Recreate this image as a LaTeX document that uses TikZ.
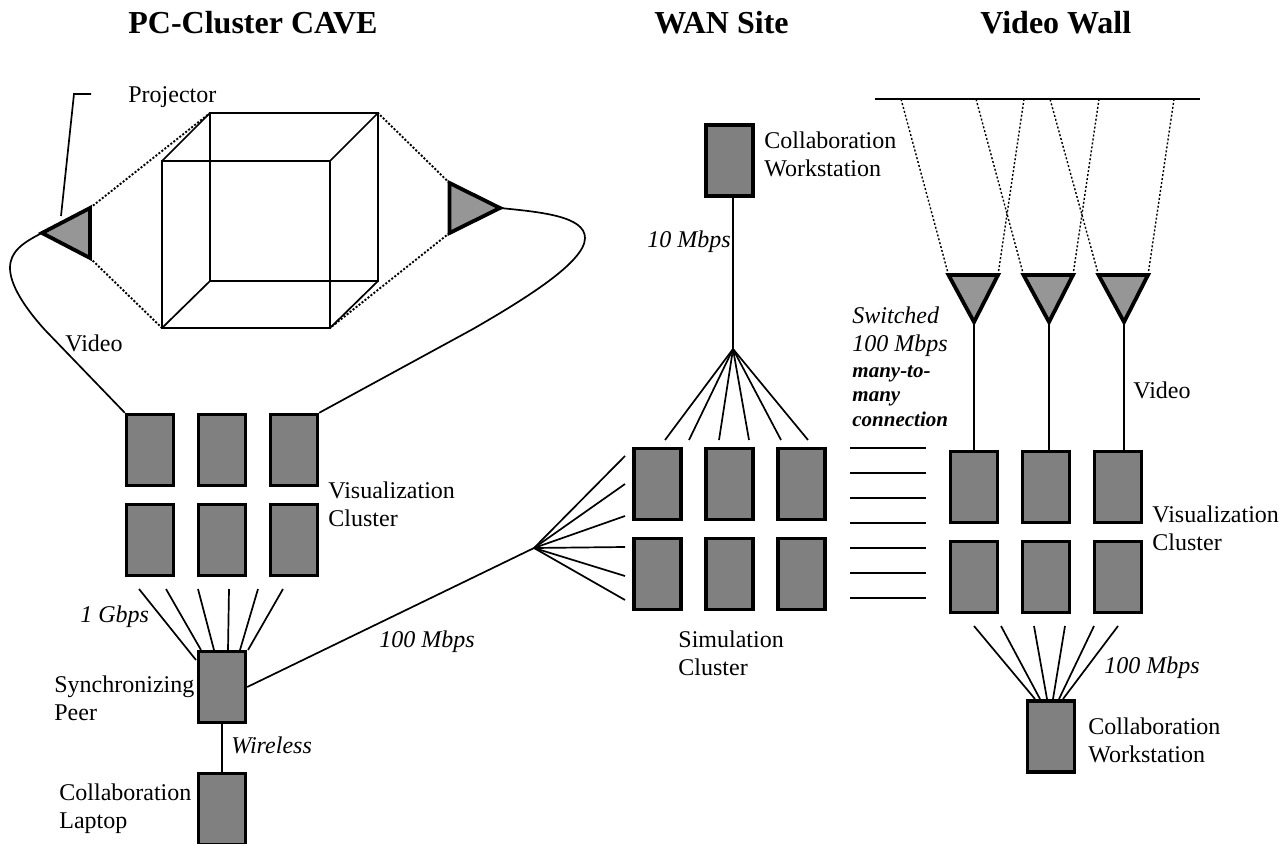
\documentclass[tikz,border=0pt]{standalone}
\usepackage{fontspec}
\setmainfont{Liberation Serif}
\usepackage{xcolor}
\definecolor{hostgray}{HTML}{808080}
\definecolor{lampgray}{HTML}{969696}
\tikzset{
  hostbox/.style={draw=black,fill=hostgray,line width=1.7pt,minimum width=23.5pt,minimum height=35.5pt,inner sep=0pt},
  projector/.style={draw=black,fill=lampgray,line width=1.9pt,line join=miter},
  wire/.style={line width=0.85pt},
  beam/.style={line width=0.95pt,dash pattern=on 1pt off 0.9pt},
  wallbeam/.style={line width=0.7pt,dash pattern=on 1pt off 1pt},
  title/.style={font=\fontsize{16}{18}\selectfont\bfseries,anchor=base west,inner sep=0pt},
  lbl/.style={font=\fontsize{12}{14}\selectfont,align=left,anchor=base west,inner sep=0pt},
  rate/.style={lbl,font=\fontsize{12}{14}\selectfont\itshape},
}
\begin{document}
\begin{tikzpicture}[x=0.5pt,y=-0.5pt]
  \useasboundingbox (0,0) rectangle (1288,844);
  % Column titles.
  \node[title] (titlecave) at (128,34) {PC-Cluster CAVE};
  \node[title] (titlewan)  at (654,34) {WAN Site};
  \node[title] (titlewall) at (980,34) {Video Wall};
  % Host boxes, one loop per cluster.
  \foreach \n/\x/\y in {va/150/450,vb/222/450,vc/294/450,vd/150/540,ve/222/540,vf/294/540}
    \node[hostbox] (\n) at (\x,\y) {};
  \foreach \n/\x/\y in {sa/657.5/484,sb/729.5/484,sc/801.5/484,sd/657.5/574,se/729.5/574,sf/801.5/574}
    \node[hostbox] (\n) at (\x,\y) {};
  \foreach \n/\x/\y in {wa/974/487,wb/1046/487,wc/1118/487,wd/974/577,we/1046/577,wf/1118/577}
    \node[hostbox] (\n) at (\x,\y) {};
  \node[hostbox] (syncpeer) at (222,687) {};
  \node[hostbox] (laptop)   at (222,809) {};
  \node[hostbox] (wanstat)  at (729.5,160.5) {};
  \node[hostbox] (wallstat) at (1051,736.5) {};
  % CAVE cube.
  \coordinate (bnw) at (210,113);
  \coordinate (bne) at (378,113);
  \coordinate (bse) at (378,281);
  \coordinate (bsw) at (210,281);
  \coordinate (fnw) at (162,161);
  \coordinate (fne) at (330,161);
  \coordinate (fse) at (330,328);
  \coordinate (fsw) at (162,328);
  \draw[wire] (bnw) -- (bne) -- (bse) -- (bsw) -- cycle;
  \draw[wire] (fnw) -- (fne) -- (fse) -- (fsw) -- cycle;
  \draw[wire] (bnw) -- (fnw) (bne) -- (fne) (bse) -- (fse) (bsw) -- (fsw);
  % CAVE projectors with their beams and video cables.
  \coordinate (pla) at (42,233);
  \coordinate (plb) at (90,208);
  \coordinate (plc) at (90,258);
  \coordinate (pra) at (500,208);
  \coordinate (prb) at (449.5,183);
  \coordinate (prc) at (449.5,233);
  \draw[beam] (plb) -- (bnw) (plc) -- (fsw) (prb) -- (bne) (prc) -- (fse);
  \draw[projector] (pla) -- (plb) -- (plc) -- cycle;
  \draw[projector] (pra) -- (prb) -- (prc) -- cycle;
  \draw[wire] (pla) .. controls (22,243) and (10,252) .. (10,268)
    .. controls (10,285) and (25,308) .. (45,330) -- (va.north west);
  \draw[wire] (pra) .. controls (540,212) and (585,216) .. (585,238)
    .. controls (585,262) and (525,299) .. (473,329) -- (vc.north east);
  % Leader of the projector label.
  \coordinate (leadtop) at (91,94);
  \coordinate (leadbend) at (74,94);
  \coordinate (leadend) at (61,216);
  \draw[wire] (leadtop) -- (leadbend) -- (leadend);
  % Fan below the CAVE cluster.
  \foreach \i/\xa/\xb/\yb in {1/139/196/660,2/166/201/650,3/198/214/650,4/229/228/650,5/258/240/650,6/283/248/650}{
    \coordinate (ct\i) at (\xa,589);
    \coordinate (cb\i) at (\xb,\yb);
    \draw[wire] (ct\i) -- (cb\i);
  }
  \draw[wire] (syncpeer) -- (laptop);
  % WAN link and the two fans of the simulation cluster.
  \coordinate (wanfan) at (534,548);
  \coordinate (topfan) at (733,349);
  \draw[wire] (syncpeer.east) -- (wanfan);
  \foreach \i/\y in {1/456,2/484,3/516,4/547,5/576,6/600}{
    \coordinate (wl\i) at (625,\y);
    \draw[wire] (wanfan) -- (wl\i);
  }
  \foreach \i/\x in {1/665,2/689,3/719,4/749,5/781,6/808}{
    \coordinate (wt\i) at (\x,440);
    \draw[wire] (topfan) -- (wt\i);
  }
  \draw[wire] (topfan) -- (topfan |- wanstat.south);
  % Switched links between the clusters.
  \foreach \i/\y in {1/448,2/473,3/498,4/523,5/548,6/573,7/598}{
    \coordinate (swa\i) at (850,\y);
    \coordinate (swb\i) at (926,\y);
    \draw[wire] (swa\i) -- (swb\i);
  }
  % Video wall with three projectors.
  \coordinate (walla) at (875,99);
  \coordinate (wallb) at (1200,99);
  \draw[wire] (walla) -- (wallb);
  \foreach \i/\xa/\xb/\xt/\hostn/\hitl/\hitr in {1/948.5/998/974/wa/901/1024,2/1023.5/1073/1049/wb/976/1099,3/1098.5/1148/1124/wc/1050/1174}{
    \coordinate (tl\i) at (\xa,275);
    \coordinate (tr\i) at (\xb,275);
    \coordinate (tt\i) at (\xt,322);
    \coordinate (hl\i) at (\hitl,99);
    \coordinate (hr\i) at (\hitr,99);
    \draw[wallbeam] (tl\i) -- (hl\i) (tr\i) -- (hr\i);
    \draw[projector] (tl\i) -- (tr\i) -- (tt\i) -- cycle;
    \draw[wire] (tt\i) -- (tt\i |- \hostn.north);
  }
  % Fan down to the wall workstation.
  \foreach \i/\xa/\xb in {1/974/1035,2/1001/1040,3/1034/1047,4/1065/1053,5/1094/1059,6/1118/1063}{
    \coordinate (ft\i) at (\xa,626);
    \coordinate (fb\i) at (\xb,699);
    \draw[wire] (ft\i) -- (fb\i);
  }
  % Labels.
  \node[lbl] (lprojector) at (128,103) {Projector};
  \node[lbl] (lvideoa) at (65,351) {Video};
  \node[lbl] (lviza) at (328,526) {Visualization\\Cluster};
  \node[rate] (lgbps) at (80,622) {1 Gbps};
  \node[lbl] (lsync) at (54,720) {Synchronizing\\Peer};
  \node[rate] (lwireless) at (231,753) {Wireless};
  \node[lbl] (llaptop) at (59,828) {Collaboration\\Laptop};
  \node[rate] (lmbpsa) at (379,647) {100 Mbps};
  \node[lbl] (lsim) at (678,675) {Simulation\\Cluster};
  \node[lbl] (lstata) at (764,177) {Collaboration\\Workstation};
  \node[rate] (lmbpsb) at (647,248) {10 Mbps};
  \node[rate] (lswitched) at (852,351) {Switched\\100 Mbps};
  \node[lbl,font=\fontsize{10.5}{12.2}\selectfont\bfseries\itshape] (lmany) at (852,426) {many-to-\\many\\connection};
  \node[lbl] (lvideob) at (1133,398) {Video};
  \node[lbl] (lvizb) at (1152,550) {Visualization\\Cluster};
  \node[rate] (lmbpsc) at (1104,673) {100 Mbps};
  \node[lbl] (lstatb) at (1088,762) {Collaboration\\Workstation};
\end{tikzpicture}
\end{document}
